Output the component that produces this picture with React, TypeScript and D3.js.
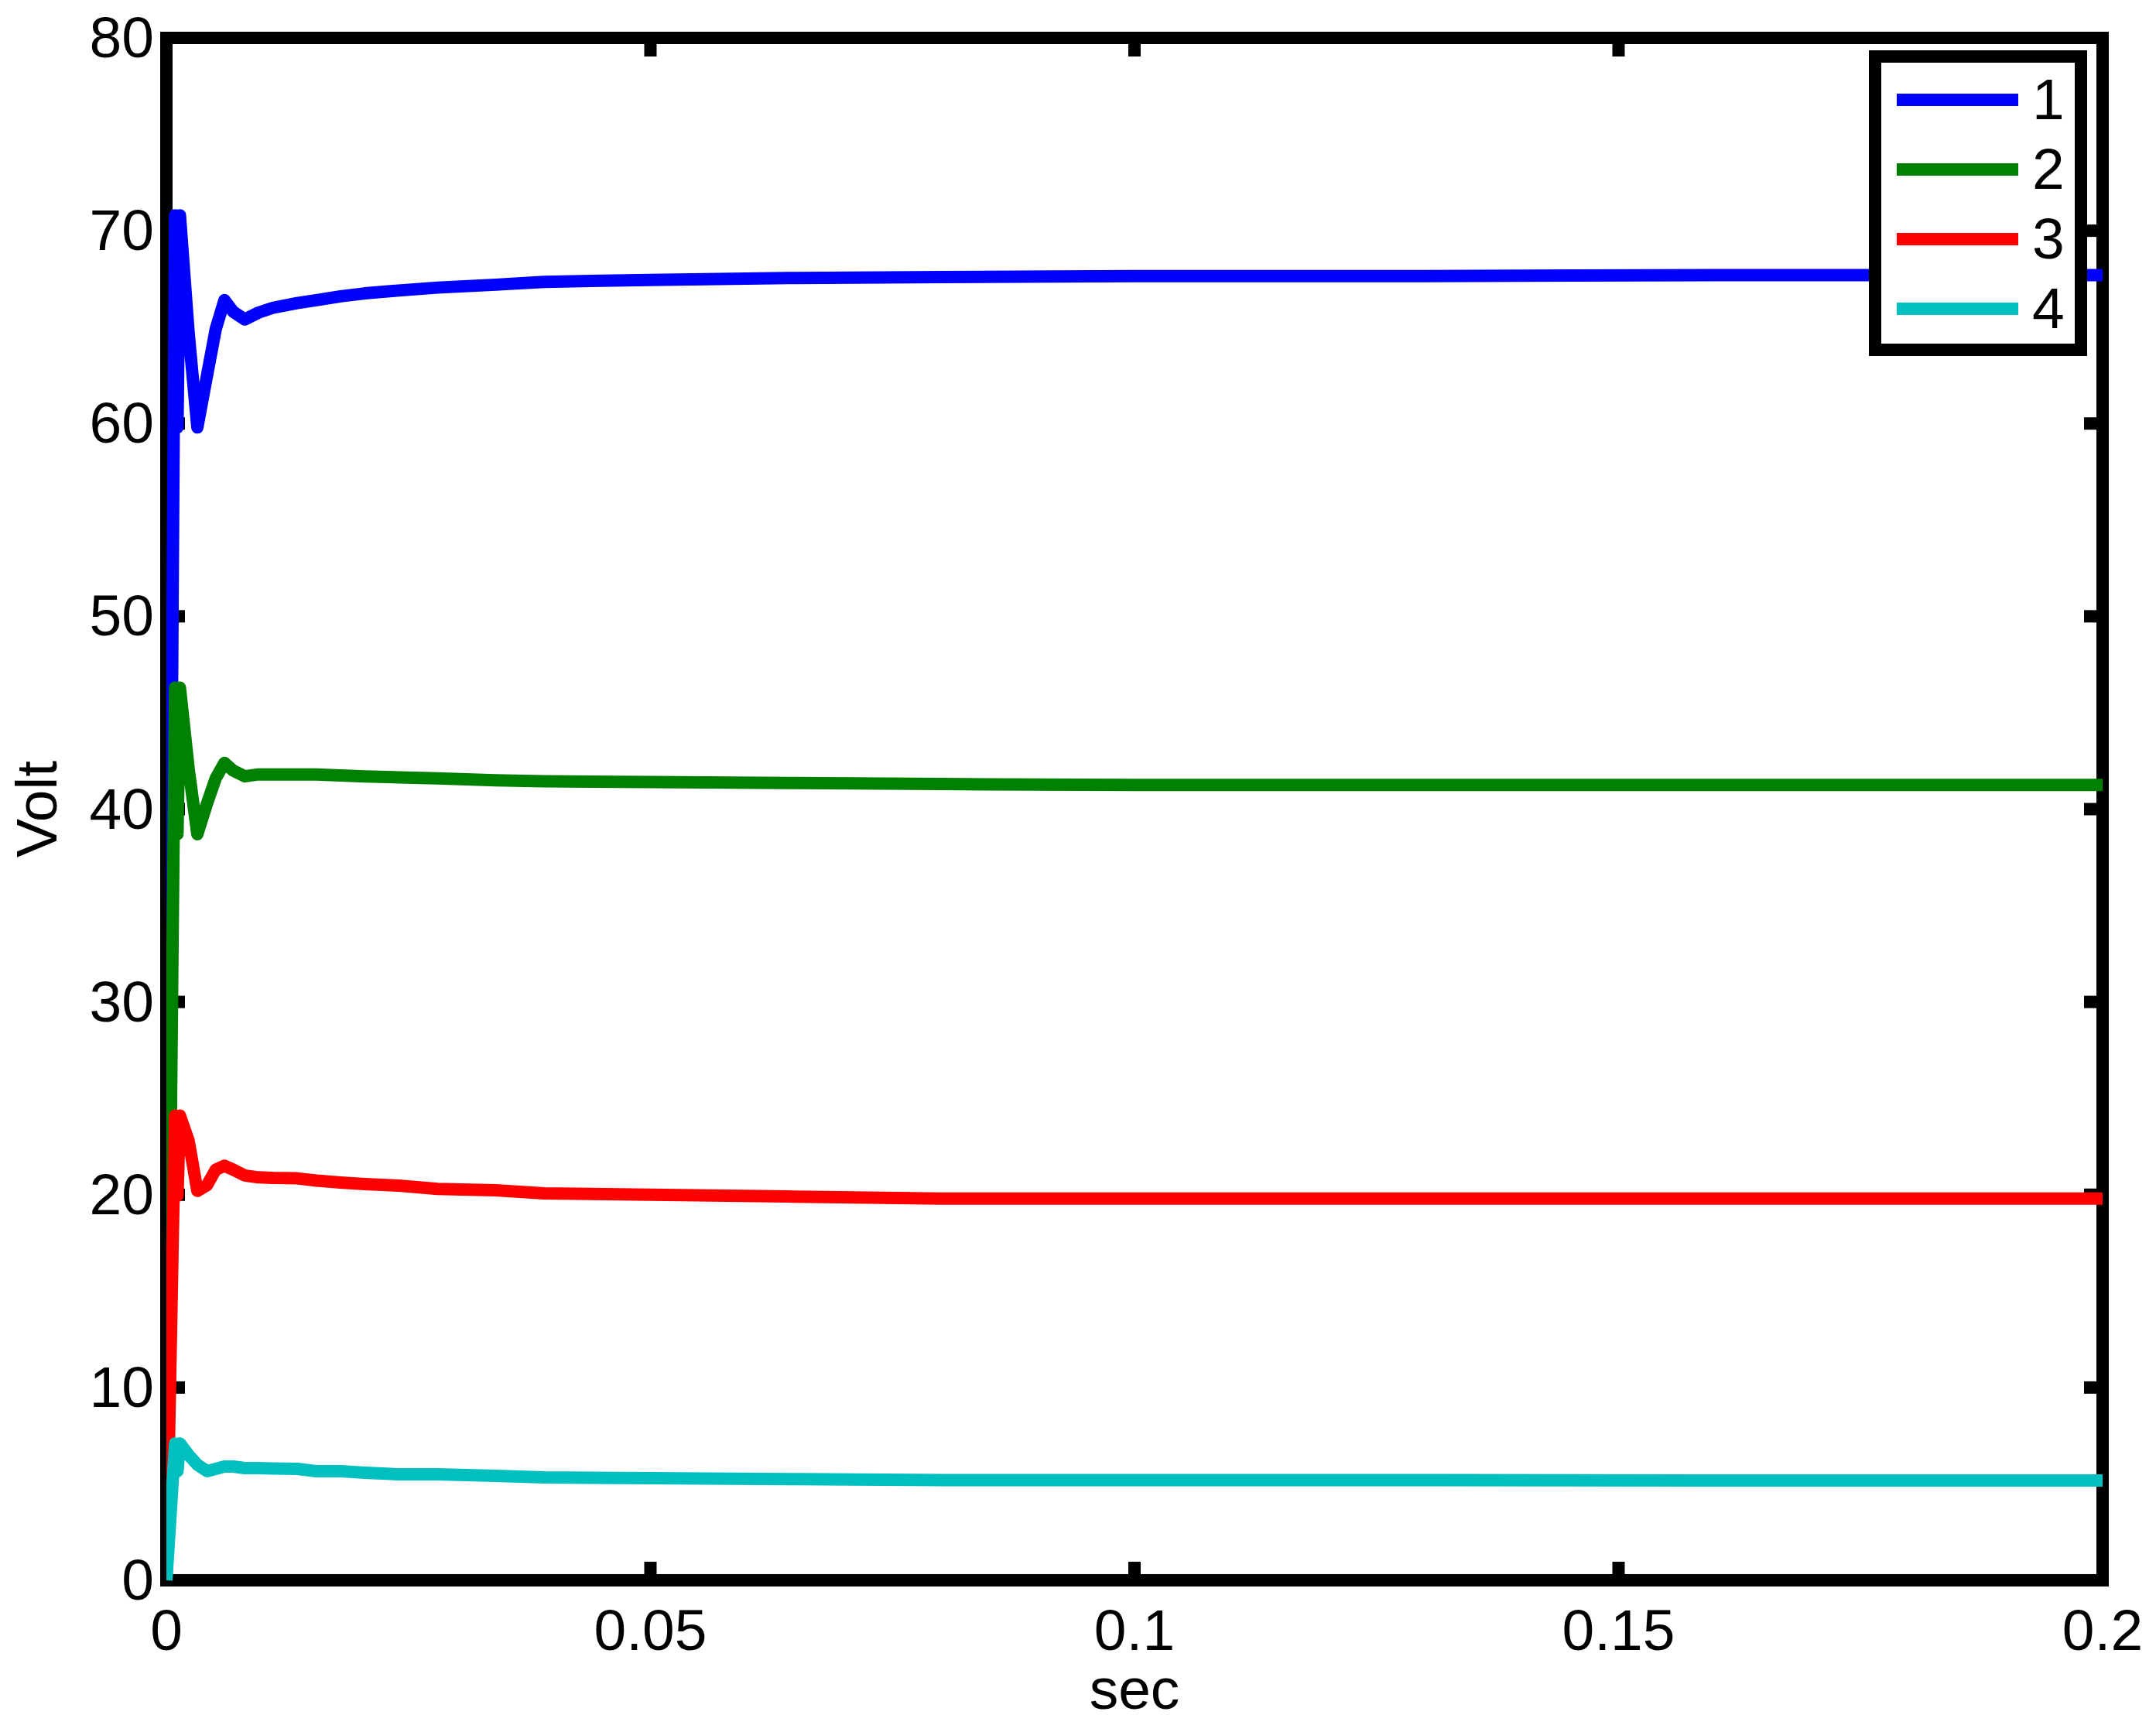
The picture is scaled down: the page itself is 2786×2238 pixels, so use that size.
import React from "react";
import * as d3 from "d3";

const W = 2786;
const H = 2238;

const timeGrid = [0, 0.0009, 0.00115, 0.0014, 0.0023, 0.0032, 0.0042, 0.0051, 0.006, 0.0069, 0.0081, 0.0095, 0.011, 0.0135, 0.0155, 0.018, 0.0205, 0.024, 0.028, 0.034, 0.039, 0.05, 0.065, 0.08, 0.1, 0.13, 0.16, 0.2];

const series1 = [0, 70.8, 59.8, 70.8, 64.7, 59.8, 62.5, 64.9, 66.4, 65.8, 65.4, 65.75, 66.0, 66.25, 66.4, 66.6, 66.75, 66.9, 67.05, 67.2, 67.35, 67.45, 67.55, 67.6, 67.65, 67.65, 67.7, 67.7];
const series2 = [0, 46.3, 38.7, 46.3, 42.1, 38.7, 40.3, 41.6, 42.4, 42.0, 41.7, 41.8, 41.8, 41.8, 41.8, 41.75, 41.7, 41.65, 41.6, 41.5, 41.45, 41.4, 41.35, 41.3, 41.25, 41.25, 41.25, 41.25];
const series3 = [0, 24.1, 19.95, 24.1, 22.8, 20.2, 20.5, 21.3, 21.5, 21.3, 21.0, 20.9, 20.87, 20.85, 20.73, 20.63, 20.55, 20.47, 20.3, 20.23, 20.07, 20.0, 19.9, 19.8, 19.8, 19.8, 19.8, 19.8];
const series4 = [0, 7.1, 5.66, 7.1, 6.5, 6.0, 5.66, 5.78, 5.9, 5.9, 5.82, 5.82, 5.8, 5.78, 5.66, 5.66, 5.58, 5.5, 5.5, 5.42, 5.34, 5.3, 5.25, 5.2, 5.2, 5.2, 5.18, 5.18];

const seriesNames = ["1", "2", "3", "4"];
const seriesColors = ["#0000ff", "#008000", "#ff0000", "#00bfbf"];
const allSeries = [series1, series2, series3, series4];

const xTicks = [0, 0.05, 0.1, 0.15, 0.2];
const xTickLabels = ["0", "0.05", "0.1", "0.15", "0.2"];
const yTicks = [0, 10, 20, 30, 40, 50, 60, 70, 80];

const xLabel = "sec";
const yLabel = "Volt";

const FONT = "'Liberation Sans', Arial, Helvetica, sans-serif";

export default function App() {
  const left = 215, right = 2717, top = 49, bottom = 2042;
  const x = d3.scaleLinear().domain([0, 0.2]).range([left, right]);
  const y = d3.scaleLinear().domain([0, 80]).range([bottom, top]);
  const lw = 16;
  const tickLen = 24;

  const lineGen = d3
    .line<number>()
    .x((_, i) => x(timeGrid[i]))
    .y((v) => y(v));

  const legX = 2423, legY = 73, legW = 266, legH = 379;
  const legRows = [129, 219, 309, 399];

  return (
    <svg
      width={W}
      height={H}
      style={{ position: "absolute", left: 0, top: 0, background: "#fff" }}
      fontFamily={FONT}
    >
      <defs>
        <clipPath id="plotClip">
          <rect x={left} y={top - 8} width={right - left} height={bottom - top + 16} />
        </clipPath>
      </defs>
      <rect x={0} y={0} width={W} height={H} fill="#fff" />

      {/* axes box */}
      <rect x={left} y={top} width={right - left} height={bottom - top} fill="none" stroke="#000" strokeWidth={lw} />

      {/* ticks */}
      {yTicks.map((t) => (
        <g key={"yt" + t}>
          <line x1={left} x2={left + tickLen} y1={y(t)} y2={y(t)} stroke="#000" strokeWidth={lw} />
          <line x1={right} x2={right - tickLen} y1={y(t)} y2={y(t)} stroke="#000" strokeWidth={lw} />
          <text x={199} y={y(t) + 25} fontSize={75} textAnchor="end" fill="#000">
            {String(t)}
          </text>
        </g>
      ))}
      {xTicks.map((t, i) => (
        <g key={"xt" + t}>
          <line x1={x(t)} x2={x(t)} y1={bottom} y2={bottom - tickLen} stroke="#000" strokeWidth={lw} />
          <line x1={x(t)} x2={x(t)} y1={top} y2={top + tickLen} stroke="#000" strokeWidth={lw} />
          <text x={x(t)} y={2132} fontSize={75} textAnchor="middle" fill="#000">
            {xTickLabels[i]}
          </text>
        </g>
      ))}

      {/* axis labels */}
      <text x={(left + right) / 2} y={2208} fontSize={75} textAnchor="middle" fill="#000">
        {xLabel}
      </text>
      <text
        transform={`translate(73, ${(top + bottom) / 2}) rotate(-90)`}
        fontSize={75}
        textAnchor="middle"
        fill="#000"
      >
        {yLabel}
      </text>

      {/* data */}
      <g clipPath="url(#plotClip)">
        {allSeries.map((s, i) => (
          <path
            key={"s" + i}
            d={lineGen(s) || ""}
            fill="none"
            stroke={seriesColors[i]}
            strokeWidth={lw}
            strokeLinejoin="round"
            strokeLinecap="butt"
          />
        ))}
      </g>

      {/* legend */}
      <rect x={legX} y={legY} width={legW} height={legH} fill="#fff" stroke="#000" strokeWidth={lw} />
      {seriesNames.map((n, i) => (
        <g key={"lg" + i}>
          <line x1={2451} x2={2608} y1={legRows[i]} y2={legRows[i]} stroke={seriesColors[i]} strokeWidth={lw} />
          <text x={2626} y={legRows[i] + 25} fontSize={75} fill="#000">
            {n}
          </text>
        </g>
      ))}
    </svg>
  );
}
